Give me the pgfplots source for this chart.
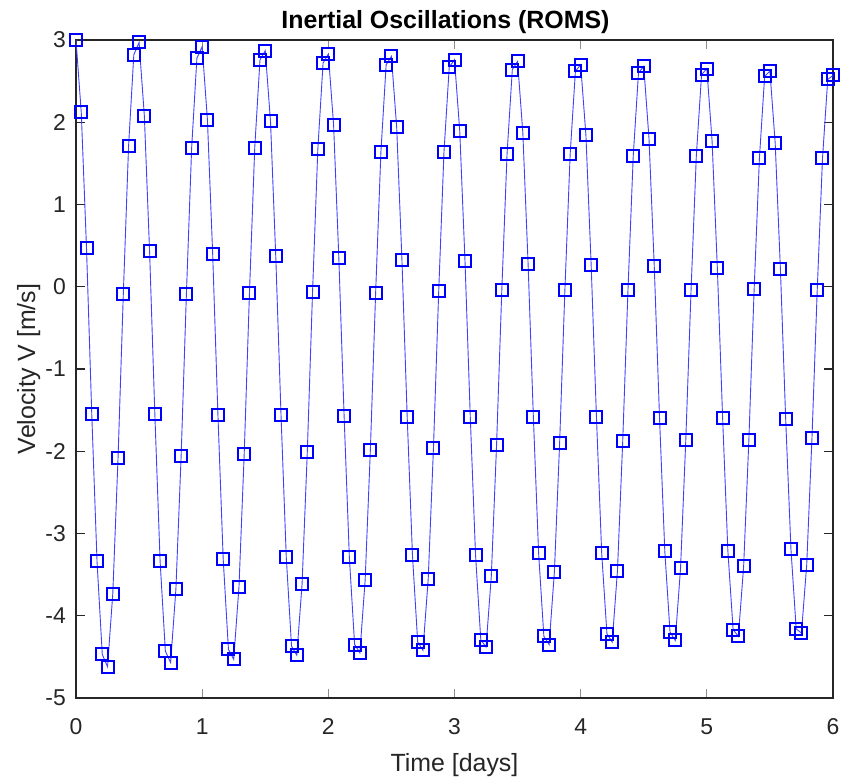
\documentclass[border=0pt]{standalone}
\usepackage{fontspec}
\setmainfont{Liberation Sans}
\usepackage{pgfplots}
\pgfplotsset{compat=1.18}
\usepackage{pgfplotstable}
\definecolor{axdark}{HTML}{262626}
\definecolor{axgray}{HTML}{8C8C8C}
\definecolor{linecol}{rgb}{0.25,0.25,1}

\pgfplotstableread{
x y
0.0000 3.00
0.0417 2.12
0.0833 0.47
0.1250 -1.55
0.1667 -3.34
0.2083 -4.47
0.2500 -4.62
0.2917 -3.73
0.3333 -2.08
0.3750 -0.09
0.4167 1.71
0.4583 2.82
0.5000 2.97
0.5417 2.08
0.5833 0.43
0.6250 -1.55
0.6667 -3.34
0.7083 -4.43
0.7500 -4.57
0.7917 -3.68
0.8333 -2.06
0.8750 -0.09
0.9167 1.69
0.9583 2.78
1.0000 2.92
1.0417 2.03
1.0833 0.40
1.1250 -1.56
1.1667 -3.31
1.2083 -4.41
1.2500 -4.53
1.2917 -3.65
1.3333 -2.03
1.3750 -0.07
1.4167 1.69
1.4583 2.76
1.5000 2.87
1.5417 2.01
1.5833 0.37
1.6250 -1.56
1.6667 -3.29
1.7083 -4.37
1.7500 -4.48
1.7917 -3.62
1.8333 -2.01
1.8750 -0.06
1.9167 1.67
1.9583 2.72
2.0000 2.83
2.0417 1.97
2.0833 0.35
2.1250 -1.57
2.1667 -3.29
2.2083 -4.35
2.2500 -4.45
2.2917 -3.57
2.3333 -1.98
2.3750 -0.07
2.4167 1.64
2.4583 2.70
2.5000 2.80
2.5417 1.94
2.5833 0.33
2.6250 -1.58
2.6667 -3.26
2.7083 -4.32
2.7500 -4.42
2.7917 -3.55
2.8333 -1.96
2.8750 -0.05
2.9167 1.64
2.9583 2.67
3.0000 2.76
3.0417 1.89
3.0833 0.31
3.1250 -1.58
3.1667 -3.26
3.2083 -4.29
3.2500 -4.38
3.2917 -3.52
3.3333 -1.93
3.3750 -0.04
3.4167 1.62
3.4583 2.64
3.5000 2.74
3.5417 1.87
3.5833 0.28
3.6250 -1.58
3.6667 -3.24
3.7083 -4.25
3.7500 -4.35
3.7917 -3.47
3.8333 -1.90
3.8750 -0.04
3.9167 1.61
3.9583 2.62
4.0000 2.70
4.0417 1.84
4.0833 0.26
4.1250 -1.58
4.1667 -3.24
4.2083 -4.22
4.2500 -4.32
4.2917 -3.45
4.3333 -1.88
4.3750 -0.04
4.4167 1.59
4.4583 2.60
4.5000 2.68
4.5417 1.80
4.5833 0.25
4.6250 -1.59
4.6667 -3.21
4.7083 -4.20
4.7500 -4.30
4.7917 -3.42
4.8333 -1.86
4.8750 -0.04
4.9167 1.59
4.9583 2.58
5.0000 2.65
5.0417 1.77
5.0833 0.23
5.1250 -1.59
5.1667 -3.21
5.2083 -4.17
5.2500 -4.25
5.2917 -3.40
5.3333 -1.86
5.3750 -0.03
5.4167 1.56
5.4583 2.56
5.5000 2.62
5.5417 1.75
5.5833 0.21
5.6250 -1.61
5.6667 -3.19
5.7083 -4.16
5.7500 -4.21
5.7917 -3.38
5.8333 -1.84
5.8750 -0.04
5.9167 1.56
5.9583 2.52
6.0000 2.57
}\vdata

\begin{document}
\begin{tikzpicture}
\useasboundingbox[fill=white] (-76bp,-82bp) rectangle (765bp,698bp);
\begin{axis}[
  scale only axis, width=757bp, height=658bp,
  at={(0,0)}, anchor=south west,
  xmin=0, xmax=6, ymin=-5, ymax=3,
  xtick={0,1,2,3,4,5,6}, ytick={-5,-4,-3,-2,-1,0,1,2,3},
  tick align=inside, major tick length=9bp,
  /pgf/number format/assume math mode=true,
  ticklabel style={font=\fontsize{23}{26}\selectfont, text=axdark},
  xticklabel style={anchor=base, yshift=-36bp},
  yticklabel style={anchor=east, inner sep=0pt, xshift=-10bp},
  xtick style={axgray, line width=1.2bp},
  ytick style={axdark, line width=1.2bp},
  axis line style={axdark, line width=1.3bp},
  every axis title shift=0pt,
  title={Inertial Oscillations (ROMS)},
  title style={font=\bfseries\fontsize{25}{28}\selectfont, at={(axis description cs:0.488,1.01824)}, anchor=base},
  xlabel={Time [days]},
  ylabel={Velocity V [m/s]},
  label style={font=\fontsize{25}{28}\selectfont, text=axdark},
  xlabel style={at={(axis description cs:0.5,-0.11094)}, anchor=base},
  ylabel style={at={(axis description cs:-0.05416,0.5)}, anchor=base},
]
\addplot[color=linecol, line width=0.9bp, mark=square, mark size=6bp,
  mark options={draw=blue, line width=2bp, solid}] table[x=x, y=y] {\vdata};
\end{axis}
\end{tikzpicture}
\end{document}
